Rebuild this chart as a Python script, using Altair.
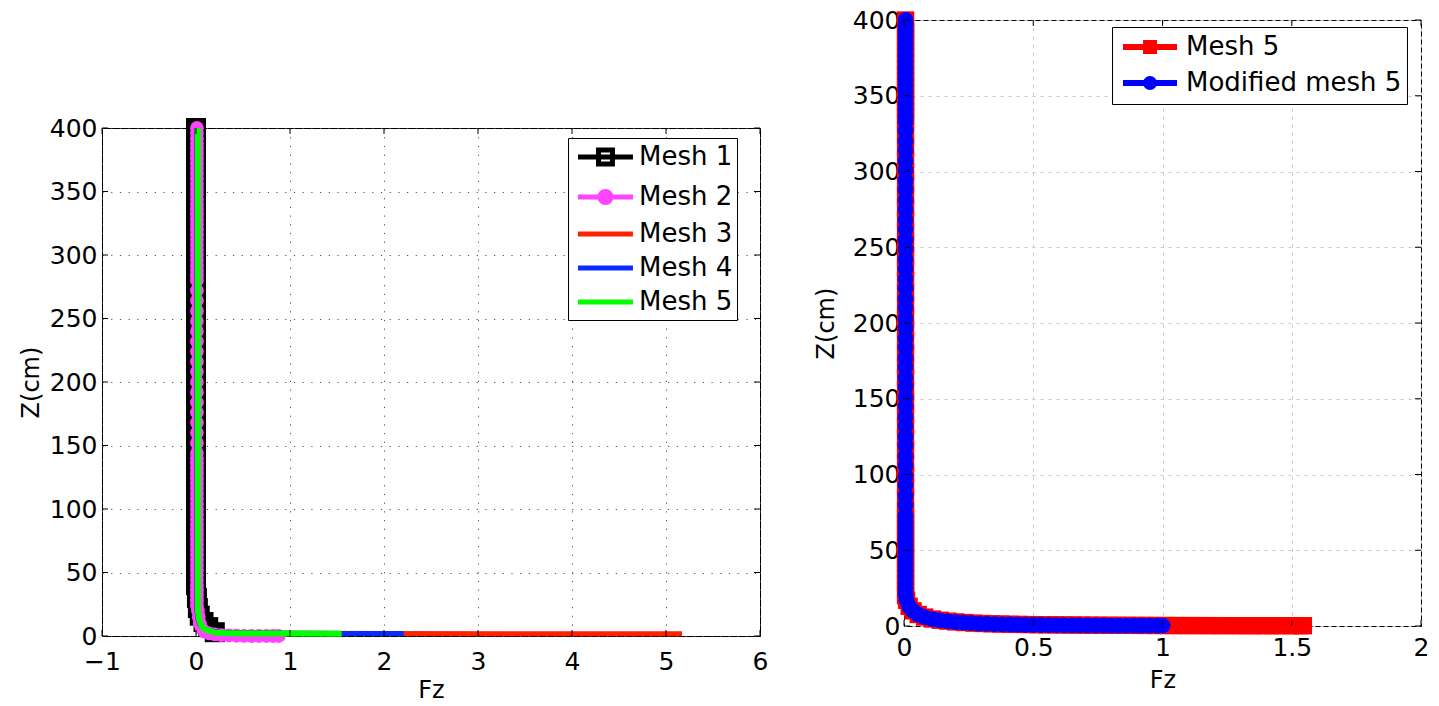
import altair as alt
import pandas as pd

FONT = "DejaVu Sans"

# ---------------- left panel data : (Fz, Z) ----------------
left_names = ["Mesh 1", "Mesh 2", "Mesh 3", "Mesh 4", "Mesh 5"]
left_colors = ["#000000", "#ff44ff", "#ff2200", "#0a2bff", "#00ff00"]
left_xticks = [-1, 0, 1, 2, 3, 4, 5, 6]
left_yticks = [0, 50, 100, 150, 200, 250, 300, 350, 400]

mesh1_pts = [(0.0, 400), (0.0, 390), (0.0, 380), (0.0, 370), (0.0, 360), (0.0, 350),
             (0.0, 340), (0.0, 330), (0.0, 320), (0.0, 310), (0.0, 300), (0.0, 290),
             (0.0, 280), (0.0, 270), (0.0, 260), (0.0, 250), (0.0, 240), (0.0, 230),
             (0.0, 220), (0.0, 210), (0.0, 200), (0.0, 190), (0.0, 180), (0.0, 170),
             (0.0, 160), (0.0, 150), (0.0, 140), (0.0, 130), (0.0, 120), (0.0, 110),
             (0.0, 100), (0.0, 90), (0.0, 80), (0.0, 70), (0.0, 60), (0.0, 50),
             (0.0, 40), (0.01, 30), (0.02, 22), (0.04, 16), (0.08, 11), (0.13, 7),
             (0.2, 3)]

mesh2_pts = [(0.01, 400), (0.01, 396), (0.01, 392), (0.01, 388), (0.01, 384), (0.01, 380),
             (0.01, 376), (0.01, 372), (0.01, 368), (0.01, 364), (0.01, 360), (0.01, 356),
             (0.01, 352), (0.01, 348), (0.01, 344), (0.01, 340), (0.01, 336), (0.01, 332),
             (0.01, 328), (0.01, 324), (0.01, 320), (0.01, 316), (0.01, 312), (0.01, 308),
             (0.01, 304), (0.01, 300), (0.01, 296), (0.01, 292), (0.01, 288), (0.01, 284),
             (0.01, 280), (0.01, 272), (0.01, 264), (0.01, 256), (0.01, 248), (0.01, 240),
             (0.01, 232), (0.01, 224), (0.01, 216), (0.01, 208), (0.01, 200), (0.01, 192),
             (0.01, 184), (0.01, 176), (0.01, 168), (0.01, 160), (0.01, 152), (0.01, 144),
             (0.01, 140), (0.01, 136), (0.01, 132), (0.01, 128), (0.01, 124), (0.01, 120),
             (0.01, 116), (0.01, 112), (0.01, 108), (0.01, 104), (0.01, 100), (0.01, 96),
             (0.01, 92), (0.01, 88), (0.01, 84), (0.01, 80), (0.01, 76), (0.01, 72),
             (0.01, 68), (0.01, 64), (0.01, 60), (0.01, 56), (0.01, 52), (0.01, 48),
             (0.01, 44), (0.01, 40), (0.01, 36), (0.01, 32), (0.01, 28), (0.01, 24),
             (0.02, 20), (0.03, 15), (0.04, 10), (0.06, 6), (0.09, 3.5), (0.14, 2),
             (0.2, 1.2), (0.27, 0.7), (0.35, 0.4), (0.43, 0.2), (0.51, 0.1), (0.59, 0.0),
             (0.67, 0.0), (0.75, 0.0), (0.82, 0.0), (0.88, 0.0)]

mesh3_pts = [(0.01, 400), (0.01, 20), (0.02, 14), (0.04, 9), (0.08, 6), (0.14, 4),
             (0.25, 3), (0.5, 2.4), (1.0, 2.1), (2.0, 1.9), (3.5, 1.8), (5.17, 1.7)]

mesh4_pts = [(0.01, 400), (0.01, 20), (0.02, 14), (0.04, 9), (0.08, 6), (0.14, 4),
             (0.25, 3), (0.5, 2.4), (1.0, 2.1), (1.6, 2.0), (2.21, 1.9)]

mesh5_pts = [(0.02, 400), (0.02, 300), (0.02, 200), (0.02, 100), (0.02, 20), (0.03, 14),
             (0.05, 9), (0.08, 6), (0.13, 4), (0.2, 2.8), (0.3, 2.3), (0.5, 2.0),
             (1.0, 1.9), (1.55, 1.8)]

# ---------------- right panel data : (Fz, Z) ----------------
right_names = ["Mesh 5", "Modified mesh 5"]
right_colors = ["#ff0000", "#0000ff"]
right_xticks = [0, 0.5, 1, 1.5, 2]
right_yticks = [0, 50, 100, 150, 200, 250, 300, 350, 400]

r_mesh5_pts = [(0.006, 400), (0.006, 396), (0.006, 392), (0.006, 388), (0.006, 384),
               (0.006, 380), (0.006, 376), (0.006, 372), (0.006, 368), (0.006, 364),
               (0.006, 360), (0.006, 356), (0.006, 352), (0.006, 348), (0.006, 344),
               (0.006, 340), (0.006, 336), (0.006, 332), (0.006, 324), (0.006, 316),
               (0.006, 308), (0.006, 300), (0.006, 292), (0.006, 284), (0.006, 276),
               (0.006, 268), (0.006, 260), (0.006, 252), (0.006, 244), (0.006, 236),
               (0.006, 228), (0.006, 220), (0.006, 212), (0.006, 204), (0.006, 196),
               (0.006, 188), (0.006, 180), (0.006, 172), (0.006, 164), (0.006, 156),
               (0.006, 148), (0.006, 140), (0.006, 132), (0.006, 124), (0.006, 116),
               (0.006, 108), (0.006, 100), (0.006, 92), (0.006, 84), (0.006, 76),
               (0.006, 72), (0.006, 68), (0.006, 64), (0.006, 60), (0.006, 56),
               (0.006, 52), (0.006, 48), (0.006, 44), (0.006, 40), (0.006, 36),
               (0.006, 32), (0.006, 28), (0.006, 24), (0.006, 20),
               (0.01, 17), (0.02, 13), (0.035, 10), (0.055, 7.6), (0.08, 5.9),
               (0.11, 4.6), (0.14, 3.8), (0.17, 3.2), (0.2, 2.7), (0.235, 2.3),
               (0.27, 1.9), (0.305, 1.65), (0.34, 1.45), (0.375, 1.3), (0.41, 1.15),
               (0.445, 1.05), (0.48, 0.95), (0.515, 0.85), (0.55, 0.8), (0.585, 0.75),
               (0.62, 0.7), (0.655, 0.65), (0.69, 0.6), (0.725, 0.55), (0.76, 0.5),
               (0.795, 0.48), (0.83, 0.45), (0.865, 0.42), (0.9, 0.4), (0.935, 0.38),
               (0.97, 0.35), (1.005, 0.33), (1.04, 0.3), (1.075, 0.3), (1.11, 0.28),
               (1.145, 0.27), (1.18, 0.25), (1.215, 0.25), (1.25, 0.24), (1.285, 0.23),
               (1.32, 0.22), (1.355, 0.21), (1.39, 0.2), (1.425, 0.2), (1.46, 0.2),
               (1.495, 0.2), (1.53, 0.2), (1.545, 0.2)]

r_mod_pts = [(0.006, 400), (0.006, 397), (0.006, 393), (0.006, 389), (0.006, 385),
             (0.006, 381), (0.006, 377), (0.006, 373), (0.006, 369), (0.006, 365),
             (0.006, 361), (0.006, 357), (0.006, 353), (0.006, 349), (0.006, 345),
             (0.006, 341), (0.006, 337), (0.006, 333), (0.006, 327), (0.006, 320),
             (0.006, 314), (0.006, 307), (0.006, 301), (0.006, 294), (0.006, 288),
             (0.006, 281), (0.006, 275), (0.006, 268), (0.006, 262), (0.006, 255),
             (0.006, 249), (0.006, 242), (0.006, 236), (0.006, 229), (0.006, 223),
             (0.006, 216), (0.006, 210), (0.006, 203), (0.006, 197), (0.006, 190),
             (0.006, 184), (0.006, 177), (0.006, 171), (0.006, 164), (0.006, 158),
             (0.006, 151), (0.006, 145), (0.006, 138), (0.006, 132), (0.006, 125),
             (0.006, 119), (0.006, 112), (0.006, 106), (0.006, 99), (0.006, 93),
             (0.006, 86), (0.006, 80), (0.006, 73), (0.006, 69), (0.006, 65),
             (0.006, 61), (0.006, 57), (0.006, 53), (0.006, 49), (0.006, 45),
             (0.006, 41), (0.006, 37), (0.006, 33), (0.006, 29), (0.006, 25),
             (0.006, 21),
             (0.01, 17), (0.02, 13), (0.035, 10), (0.055, 7.5), (0.08, 5.8),
             (0.11, 4.5), (0.14, 3.7), (0.17, 3.1), (0.2, 2.6), (0.23, 2.2),
             (0.26, 1.9), (0.29, 1.6), (0.32, 1.4), (0.35, 1.25), (0.38, 1.1),
             (0.41, 1.0), (0.44, 0.9), (0.47, 0.8), (0.5, 0.7), (0.53, 0.65),
             (0.56, 0.6), (0.59, 0.55), (0.62, 0.5), (0.65, 0.45), (0.68, 0.4),
             (0.71, 0.38), (0.74, 0.35), (0.77, 0.32), (0.8, 0.3), (0.83, 0.28),
             (0.86, 0.25), (0.89, 0.22), (0.92, 0.2), (0.95, 0.2), (0.98, 0.2),
             (1.0, 0.2)]

# legend symbols (line + marker), custom SVG paths
left_paths = [
    "M-0.75,0H3.83M0.96,-0.58H2.12V0.58H0.96Z",
    "M-0.75,0H3.83M2.0,0A0.46,0.46 0 1,1 1.08,0A0.46,0.46 0 1,1 2.0,0Z"
    "M1.74,0A0.2,0.2 0 1,1 1.34,0A0.2,0.2 0 1,1 1.74,0Z",
    "M-0.75,0H3.83",
    "M-0.75,0H3.83",
    "M-0.75,0H3.83",
]
right_paths = [
    "M-0.75,0H3.75M1.17,-0.33H1.83V0.33H1.17ZM1.4,-0.1H1.6V0.1H1.4Z",
    "M-0.75,0H3.75M1.83,0A0.33,0.33 0 1,1 1.17,0A0.33,0.33 0 1,1 1.83,0Z"
    "M1.6,0A0.1,0.1 0 1,1 1.4,0A0.1,0.1 0 1,1 1.6,0Z",
]


def frame(pts):
    df = pd.DataFrame(pts, columns=["fz", "z"])
    df["i"] = list(range(len(df)))
    return df


def make_axis(title, values, label_pad, title_pad, grid_color, grid_dash):
    return alt.Axis(title=title, values=values, format=".2~f", grid=True,
                    gridColor=grid_color, gridDash=grid_dash, gridWidth=1,
                    gridOpacity=1, domain=False, ticks=False, tickSize=0,
                    labelFont=FONT, labelFontSize=25, labelColor="black",
                    labelPadding=label_pad, labelFlush=False, labelOverlap=False,
                    titleFont=FONT, titleFontSize=24, titleFontWeight="normal",
                    titleColor="black", titlePadding=title_pad)


def panel(W, H, xdom, ydom, xticks, yticks, xaxis, yaxis, series_layers, legend_layer):
    xs = alt.Scale(domain=xdom, nice=False, zero=False)
    ys = alt.Scale(domain=ydom, nice=False, zero=False)

    def X(f):
        return alt.X(f + ":Q", scale=xs, axis=xaxis)

    def Y(f):
        return alt.Y(f + ":Q", scale=ys, axis=yaxis)

    layers = []
    for kind, df, opts in series_layers:
        if kind == "line":
            m = alt.Chart(df).mark_line(strokeJoin="round", **opts)
            layers.append(m.encode(x=X("fz"), y=Y("z"), order=alt.Order("i:Q")))
        else:
            m = alt.Chart(df).mark_point(**opts)
            layers.append(m.encode(x=X("fz"), y=Y("z")))

    xt = pd.DataFrame({"t": xticks})
    yt = pd.DataFrame({"t": yticks})
    tick = dict(color="black", strokeWidth=1)
    layers.append(alt.Chart(xt).mark_rule(**tick).encode(
        x=X("t"), y=alt.value(H), y2=alt.value(H - 6)))
    layers.append(alt.Chart(xt).mark_rule(**tick).encode(
        x=X("t"), y=alt.value(0), y2=alt.value(6)))
    layers.append(alt.Chart(yt).mark_rule(**tick).encode(
        y=Y("t"), x=alt.value(0), x2=alt.value(6)))
    layers.append(alt.Chart(yt).mark_rule(**tick).encode(
        y=Y("t"), x=alt.value(W), x2=alt.value(W - 6)))
    layers.append(legend_layer)
    return alt.layer(*layers).properties(width=W, height=H)


def legend_layer(names, colors, paths, field, lx, ly, sw, pad, rowpad, loff):
    leg = alt.Legend(orient="none", legendX=lx, legendY=ly, title=None,
                     labelFont=FONT, labelFontSize=26, labelColor="black",
                     labelLimit=500, labelOffset=loff, symbolSize=576,
                     symbolStrokeWidth=sw, symbolOpacity=1,
                     strokeColor="black", fillColor="white", padding=pad,
                     rowPadding=rowpad)
    df = pd.DataFrame({field: names})
    return alt.Chart(df).mark_point(opacity=0).encode(
        color=alt.Color(field + ":N", scale=alt.Scale(domain=names, range=colors), legend=leg),
        shape=alt.Shape(field + ":N", scale=alt.Scale(domain=names, range=paths), legend=leg),
    )


# ---------------- left panel ----------------
LW, LH = 658, 508
l_xaxis = make_axis("Fz", left_xticks, 13, 4, "#555555", [1.2, 7.5])
l_yaxis = make_axis("Z(cm)", left_yticks, 5, 6, "#555555", [1.2, 7.5])
left_series = [
    ("line", frame(mesh1_pts), dict(color=left_colors[0], strokeWidth=4)),
    ("point", frame(mesh1_pts), dict(shape="square", filled=True, color=left_colors[0],
                                     size=400, opacity=1, strokeWidth=0)),
    ("line", frame(mesh2_pts), dict(color=left_colors[1], strokeWidth=5)),
    ("point", frame(mesh2_pts), dict(shape="circle", filled=True, color=left_colors[1],
                                     size=190, opacity=1, strokeWidth=0)),
    ("line", frame(mesh3_pts), dict(color=left_colors[2], strokeWidth=5)),
    ("line", frame(mesh4_pts), dict(color=left_colors[3], strokeWidth=5)),
    ("line", frame(mesh5_pts), dict(color=left_colors[4], strokeWidth=6)),
]
left = panel(LW, LH, [-1, 6], [0, 400], left_xticks, left_yticks, l_xaxis, l_yaxis,
             left_series,
             legend_layer(left_names, left_colors, left_paths, "lg", 466, 10, 5, 4.5, 6, 37.5))

# invisible spacer that drops the left panel below the right one
spacer = (
    alt.Chart(pd.DataFrame({"s": [0]}))
    .mark_point(opacity=0, size=1)
    .encode(x=alt.value(0), y=alt.value(10))
    .properties(width=1, height=94, view=alt.ViewBackground(stroke="transparent"))
)
left_col = alt.vconcat(spacer, left, spacing=0).resolve_scale(
    color="independent", shape="independent")

# ---------------- right panel ----------------
RW, RH = 517, 606
r_xaxis = make_axis("Fz", right_xticks, 9, 8, "#c8c8c8", [3, 5])
r_yaxis = make_axis("Z(cm)", right_yticks, 4, 14, "#c8c8c8", [3, 5])
right_series = [
    ("line", frame(r_mesh5_pts), dict(color=right_colors[0], strokeWidth=5)),
    ("point", frame(r_mesh5_pts), dict(shape="square", filled=True, color=right_colors[0],
                                       size=300, opacity=1, strokeWidth=0)),
    ("line", frame(r_mod_pts), dict(color=right_colors[1], strokeWidth=5)),
    ("point", frame(r_mod_pts), dict(shape="circle", filled=True, color=right_colors[1],
                                     size=250, opacity=1, strokeWidth=0)),
]
right = panel(RW, RH, [0, 2], [0, 400], right_xticks, right_yticks, r_xaxis, r_yaxis,
              right_series,
              legend_layer(right_names, right_colors, right_paths, "lg2", 208, 7, 6, 5, 4, 39))

chart = (
    alt.hconcat(left_col, right, spacing=44)
    .resolve_scale(color="independent", shape="independent")
    .properties(padding={"left": 10, "top": -1, "right": 0, "bottom": 0})
    .configure_view(stroke="black", strokeWidth=1)
)

chart.save("out.html", embed_options={"renderer": "svg", "actions": False})
